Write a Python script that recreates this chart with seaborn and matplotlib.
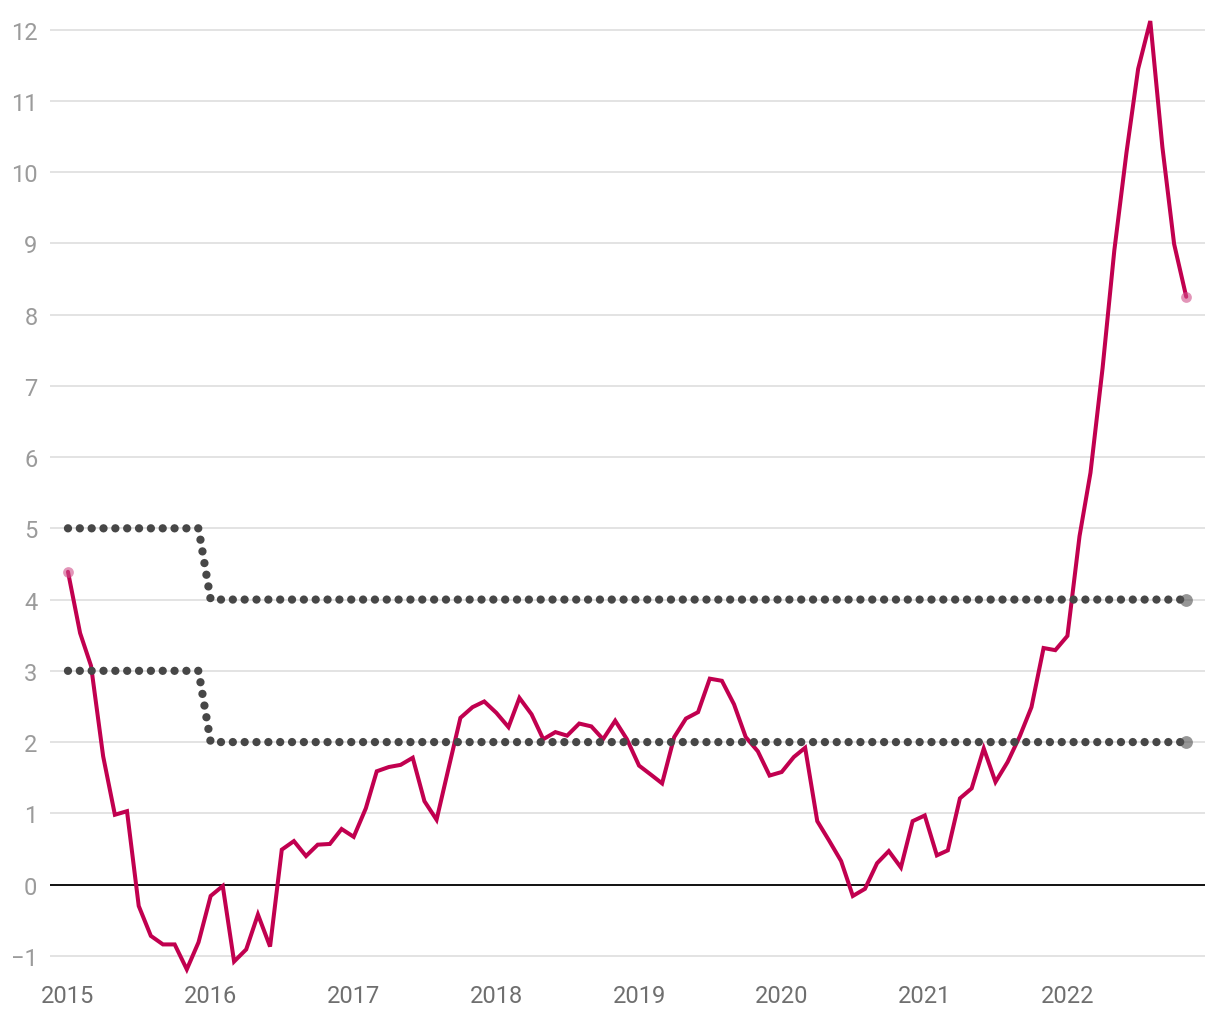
"""Inflation vs. target band, monthly 2015-2022."""
import matplotlib

matplotlib.use("Agg")
import matplotlib.dates as mdates  # noqa: E402
import matplotlib.pyplot as plt  # noqa: E402
import numpy as np  # noqa: E402
import pandas as pd  # noqa: E402
import seaborn as sns  # noqa: E402

# monthly, Jan 2015 .. Nov 2022
months = pd.date_range("2015-01-01", "2022-11-01", freq="MS")

inflation = [
    4.39, 3.53, 3.07, 1.80, 0.98, 1.03, -0.30, -0.72, -0.84, -0.84, -1.19, -0.81,
    -0.16, -0.02, -1.08, -0.91, -0.42, -0.87, 0.49, 0.61, 0.40, 0.56, 0.57, 0.78,
    0.67, 1.07, 1.59, 1.65, 1.68, 1.78, 1.17, 0.91, 1.64, 2.34, 2.49, 2.57,
    2.41, 2.21, 2.62, 2.39, 2.04, 2.14, 2.09, 2.26, 2.22, 2.04, 2.30, 2.04,
    1.67, 1.54, 1.42, 2.07, 2.33, 2.42, 2.89, 2.86, 2.53, 2.07, 1.87, 1.53,
    1.58, 1.79, 1.92, 0.89, 0.62, 0.33, -0.16, -0.06, 0.30, 0.47, 0.24, 0.89,
    0.97, 0.41, 0.48, 1.21, 1.35, 1.91, 1.44, 1.72, 2.08, 2.49, 3.32, 3.29,
    3.49, 4.89, 5.78, 7.25, 8.90, 10.27, 11.45, 12.12, 10.35, 8.99, 8.25,
]
band_upper = [5] * 12 + [4] * 83
band_lower = [3] * 12 + [2] * 83

y_ticks = list(range(-1, 13))
x_ticks = pd.date_range("2015-01-01", "2022-01-01", freq="YS")

RED = "#c1004f"
DOTS = "#474747"

sns.set_theme(style="white")
plt.rcParams["font.family"] = ["Roboto", "DejaVu Sans"]

fig = plt.figure(figsize=(12.2, 10.2), dpi=100)
ax = fig.add_axes([50 / 1220, 1 - 978.2 / 1020, 1155 / 1220, 969 / 1020])

ax.axhline(0, color="black", lw=1.3, zorder=2)

sns.lineplot(x=months, y=inflation, ax=ax, color=RED, linewidth=2.9,
             zorder=3, solid_joinstyle="miter")
sns.scatterplot(x=[months[0], months[-1]], y=[inflation[0], inflation[-1]],
                ax=ax, color="#d04f8a", alpha=0.6, s=60, linewidth=0, zorder=4)

dotted = (0, (0.001, 1.42))
for band in (band_upper, band_lower):
    sns.lineplot(x=months, y=band, ax=ax, color=DOTS, linewidth=6.0,
                 linestyle=dotted, dash_capstyle="round", zorder=5)
    sns.scatterplot(x=[months[-1]], y=[band[-1]], ax=ax, color="#505050",
                    alpha=0.6, s=85, linewidth=0, zorder=6)

ax.set_ylim(-1.3, 12.3)
ax.set_xlim(pd.Timestamp("2014-11-16"), pd.Timestamp("2022-12-19"))
ax.set_yticks(y_ticks)
ax.set_xticks(x_ticks)
ax.xaxis.set_major_formatter(mdates.DateFormatter("%Y"))
ax.yaxis.grid(True, color="#e3e3e3", lw=1.4, zorder=0)
ax.xaxis.grid(False)
ax.set_axisbelow(True)
for s in ax.spines.values():
    s.set_visible(False)
ax.tick_params(axis="y", length=0, pad=9, labelsize=17, labelcolor="#9b9b9b")
ax.tick_params(axis="x", length=0, pad=5, labelsize=17, labelcolor="#6f6f6f")
ax.set_xlabel("")
ax.set_ylabel("")

fig.savefig("out.png", dpi=100)
plt.close(fig)
